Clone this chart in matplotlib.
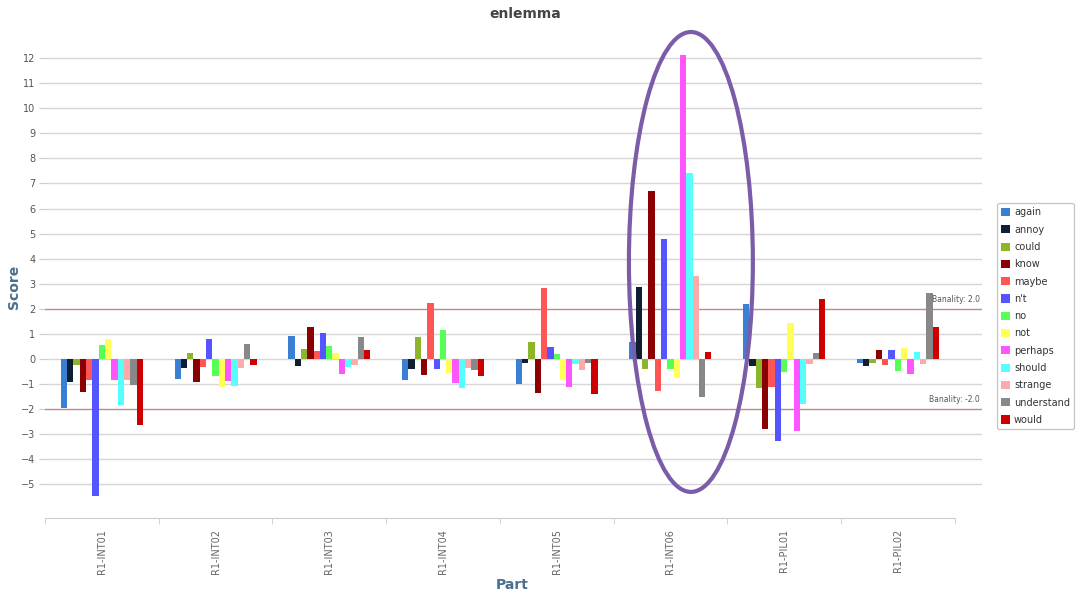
import matplotlib.pyplot as plt
import numpy as np
from matplotlib.patches import Ellipse, Patch

parts = ['R1-INT01', 'R1-INT02', 'R1-INT03', 'R1-INT04',
         'R1-INT05', 'R1-INT06', 'R1-PIL01', 'R1-PIL02']

words = ['again', 'annoy', 'could', 'know', 'maybe', "n't", 'no', 'not',
         'perhaps', 'should', 'strange', 'understand', 'would']

colors = ['#3b7fd4', '#0f1e33', '#8db52a', '#8b0000', '#ff5555', '#5555ff',
          '#55ff55', '#ffff55', '#ff55ff', '#55ffff', '#ffaaaa', '#888888',
          '#cc0000']

# score per word, one list per part
again = [-1.95, -0.8, 0.92, -0.84, -1.01, 0.66, 2.19, -0.17]
annoy = [-0.93, -0.37, -0.27, -0.41, -0.15, 2.88, -0.28, -0.27]
could = [-0.24, 0.23, 0.41, 0.89, 0.69, -0.41, -1.17, -0.17]
know = [-1.33, -0.9, 1.29, -0.64, -1.37, 6.71, -2.8, 0.36]
maybe = [-0.84, -0.3, 0.33, 2.25, 2.84, -1.28, -1.1, -0.24]
nt = [-5.46, 0.78, 1.05, -0.39, 0.49, 4.77, -3.26, 0.35]
no = [0.55, -0.68, 0.53, 1.14, 0.19, -0.41, -0.51, -0.47]
not_ = [0.79, -1.13, 0.23, -0.57, -0.84, -0.74, 1.45, 0.45]
perhaps = [-0.84, -0.88, -0.6, -0.94, -1.13, 12.12, -2.87, -0.6]
should = [-1.83, -1.08, -0.3, -1.16, -0.21, 7.4, -1.81, 0.29]
strange = [-0.84, -0.35, -0.24, -0.37, -0.44, 3.32, -0.21, -0.21]
understand = [-1.04, 0.61, 0.88, -0.44, -0.15, -1.53, 0.25, 2.62]
would = [-2.63, -0.25, 0.36, -0.66, -1.4, 0.29, 2.39, 1.28]

series = [again, annoy, could, know, maybe, nt, no, not_, perhaps,
          should, strange, understand, would]

banality = 2.0

fig = plt.figure(figsize=(10.78, 5.94), dpi=100)
W, H = 1078, 594
ax = fig.add_axes([45 / W, 1 - 518 / H, (982 - 45) / W, (518 - 30) / H])

x = np.arange(len(parts))
n = len(series)
bw = 0.0555
for i, (vals, c) in enumerate(zip(series, colors)):
    off = (i - (n - 1) / 2) * bw
    ax.bar(x + off, vals, width=bw, color=c, linewidth=0, zorder=3)

ax.set_xlim(-0.5, 7.5 + 0.24)
ax.set_ylim(-6.34, 13.12)

# grid
for v in range(-5, 13):
    if abs(v) == 2:
        continue
    ax.axhline(v, color='#d6d6d6', lw=1, zorder=1)
for v in (banality, -banality):
    ax.axhline(v, color='#c98585', lw=1, zorder=2)
    ax.text(7.5 + 0.22, v + 0.2, 'Banality: %.1f' % v, ha='right', va='bottom',
            fontsize=5.5, color='#555555', zorder=4)

ax.set_yticks(range(-5, 13))
ax.tick_params(axis='y', length=4, color='#cccccc', labelsize=7,
               labelcolor='#555555', pad=3)
ax.set_xticks(x)
ax.set_xticklabels(parts, rotation=90, fontsize=7, color='#666666')
ax.set_xticks(np.arange(-0.5, 8, 1), minor=True)
ax.tick_params(axis='x', which='major', length=0, pad=8)
ax.tick_params(axis='x', which='minor', length=4, color='#cccccc')

for s in ('top', 'right', 'left'):
    ax.spines[s].set_visible(False)
ax.spines['bottom'].set_color('#cccccc')
ax.spines['bottom'].set_bounds(-0.5, 7.5)

fig.text(525 / W, 1 - 14 / H, 'enlemma', ha='center', va='center',
         fontsize=10, fontweight='bold', color='#444444')
fig.text(14 / W, 1 - 287 / H, 'Score', ha='center', va='center', rotation=90,
         fontsize=10, fontweight='bold', color='#4a6f8f')
fig.text(512 / W, 1 - 585 / H, 'Part', ha='center', va='center',
         fontsize=10, fontweight='bold', color='#4a6f8f')

# highlight the R1-INT06 group
ell = Ellipse((5.18, 3.87), 1.09, 18.34, fill=False, edgecolor='#7a5ca8',
              lw=3, zorder=5, clip_on=False)
ax.add_patch(ell)

handles = [Patch(facecolor=c, edgecolor='none') for c in colors]
leg = fig.legend(handles, words, loc='upper left',
                 bbox_to_anchor=(997 / W, 1 - 203 / H), fontsize=7,
                 handlelength=0.9, handleheight=0.9, handletextpad=0.4,
                 labelspacing=0.75, borderpad=0.45, borderaxespad=0,
                 frameon=True, fancybox=True)
leg.get_frame().set_edgecolor('#bbbbbb')
for t in leg.get_texts():
    t.set_color('#333333')

fig.savefig('out.png', dpi=100)
